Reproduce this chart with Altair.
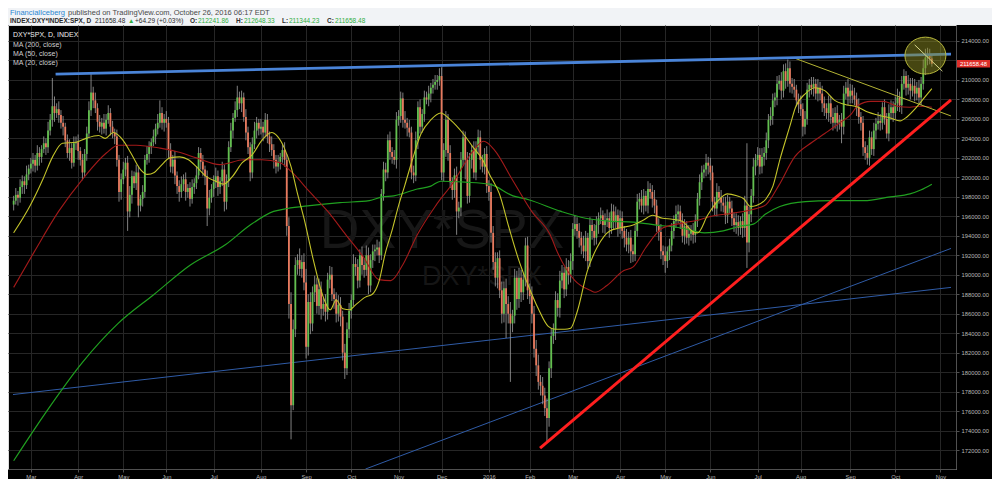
import json
import altair as alt
import pandas as pd

# ---------------- data (prices in thousands) ----------------
closes = [
    197.6, 198.2, 197.9, 199.0, 199.6, 199.2, 200.3, 200.9, 201.4, 201.8,
    201.2, 202.5, 202.1, 202.9, 203.5, 203.1, 204.8, 205.9, 207.3, 206.6,
    207.0, 206.4, 205.6, 205.2, 203.8, 202.5, 203.0, 201.5, 203.5, 203.6,
    202.7, 201.8, 200.5, 202.4, 204.5, 206.9, 208.7, 207.9, 207.1, 205.7,
    205.2, 205.6, 205.0, 205.9, 206.6, 205.2, 204.6, 204.2, 201.8, 198.5,
    199.8, 200.8, 201.5, 196.5, 198.2, 200.1, 199.4, 200.5, 197.1, 197.8,
    198.5, 201.8, 202.4, 203.1, 203.6, 204.2, 205.0, 205.6, 206.6, 205.6,
    206.0, 205.6, 202.8, 201.1, 201.8, 200.2, 199.1, 198.5, 199.3, 199.8,
    198.5, 198.9, 197.8, 199.0, 199.4, 200.2, 202.5, 201.6, 200.8, 200.1,
    196.8, 197.9, 198.8, 199.5, 200.1, 199.0, 199.6, 200.8, 197.5, 199.6,
    203.1, 204.8, 206.1, 206.9, 208.2, 207.6, 208.2, 206.2, 204.6, 203.1,
    200.5, 203.4, 204.8, 205.6, 205.0, 205.2, 204.6, 205.9, 204.2, 203.4,
    202.8, 201.8, 201.1, 201.6, 202.1, 202.8, 201.8, 195.0, 187.0, 176.6,
    184.4, 191.0, 191.5, 190.6, 191.3, 189.2, 182.6, 187.2, 185.0, 188.2,
    189.0, 186.8, 188.5, 186.5, 187.0, 186.2, 189.5, 190.0, 188.0, 187.5,
    186.0, 186.9, 185.7, 182.0, 180.4, 184.4, 186.3, 187.4, 191.1, 190.8,
    189.4, 192.0, 191.0, 190.5, 192.0, 188.9, 191.5, 192.4, 192.6, 192.8,
    192.0, 198.3, 200.8, 200.5, 203.8, 202.6, 202.1, 201.8, 205.9, 206.3,
    208.1, 205.9, 205.6, 205.1, 204.6, 200.5, 200.2, 203.8, 207.2, 205.2,
    206.5, 208.2, 208.0, 208.6, 209.2, 209.5, 209.8, 210.0, 210.4, 200.5,
    202.8, 205.9, 202.5, 199.5, 198.7, 200.2, 196.5, 196.9, 201.8, 204.1,
    201.8, 198.1, 201.8, 202.8, 200.5, 203.1, 204.1, 201.8, 201.1, 202.4,
    199.1, 198.5, 194.3, 191.3, 189.7, 191.7, 188.4, 186.0, 188.6, 187.0,
    186.0, 185.0, 185.8, 189.7, 187.5, 189.7, 188.2, 189.5, 193.0, 188.4,
    187.8, 186.0, 182.4, 180.7, 179.0, 178.6, 177.6, 176.3, 175.3, 180.4,
    183.7, 184.4, 187.4, 186.6, 189.4, 190.2, 188.5, 190.8, 190.0, 191.4,
    194.7, 195.2, 194.5, 193.8, 193.0, 192.4, 193.8, 191.4, 195.1, 194.5,
    193.8, 195.1, 195.8, 196.1, 195.1, 195.6, 195.8, 194.8, 196.5, 195.5,
    196.1, 194.8, 195.8, 194.5, 193.8, 193.1, 193.8, 192.4, 192.1, 194.5,
    197.5, 197.8, 197.1, 198.1, 197.1, 198.8, 198.5, 197.8, 197.1, 195.1,
    194.4, 192.4, 192.0, 191.4, 192.4, 193.0, 194.5, 195.5, 196.2, 196.5,
    195.5, 194.0, 195.0, 193.8, 194.2, 194.5, 194.1, 195.5, 197.8, 199.5,
    200.5, 200.8, 201.5, 201.2, 200.5, 197.5, 196.8, 198.5, 197.9, 197.4,
    197.1, 196.1, 197.5, 196.8, 195.8, 195.1, 195.4, 194.8, 195.5, 194.8,
    197.1, 193.3, 196.2, 198.1, 201.1, 201.8, 202.3, 201.1, 202.1, 202.5,
    203.8, 205.9, 206.3, 207.9, 208.2, 209.6, 209.9, 208.9, 210.9, 209.9,
    211.2, 209.6, 209.3, 209.0, 207.9, 207.5, 207.0, 205.2, 206.0, 209.0,
    209.5, 209.2, 209.6, 208.6, 209.2, 208.6, 207.6, 207.1, 206.6, 207.6,
    206.2, 205.6, 206.6, 205.6, 205.9, 205.2, 208.6, 209.2, 208.3, 208.9,
    208.4, 208.0, 207.2, 206.2, 205.6, 203.1, 202.5, 202.0, 204.1, 202.9,
    204.8, 205.5, 205.8, 205.6, 207.2, 206.0, 204.5, 206.6, 207.2, 206.6,
    207.6, 208.2, 207.4, 209.6, 210.4, 209.2, 209.6, 208.9, 209.4, 208.6,
    209.2, 208.2, 209.6, 211.2, 212.3, 212.6, 212.2, 211.66,
]
first_open = 197.2

# wick extension above / below the body, in hundreds
wick_up = [
    5, 7, 4, 8, 6, 5, 9, 4, 6, 7,   5, 8, 6, 4, 7, 5, 9, 6, 29, 10,
    6, 8, 5, 7, 4, 6, 9, 5, 7, 6,   8, 4, 6, 5, 7, 9, 19, 6, 8, 5,
    7, 5, 9, 6, 8, 5, 6, 4, 7, 5,   6, 8, 5, 7, 9, 6, 5, 8, 6, 4,
    7, 5, 8, 6, 4, 7, 5, 9, 13, 6,  5, 8, 6, 7, 5, 9, 4, 6, 8, 5,
    7, 4, 6, 8, 5, 9, 6, 5, 7, 4,   6, 8, 5, 7, 9, 6, 4, 8, 5, 7,
    6, 8, 5, 9, 12, 6, 7, 5, 8, 6,  5, 7, 9, 6, 4, 8, 5, 7, 6, 5,
    8, 6, 5, 7, 4, 6, 8, 6, 9, 12,  10, 8, 6, 12, 7, 9, 14, 8, 10, 6,
    9, 7, 11, 8, 6, 10, 7, 9, 8, 6, 7, 10, 8, 6, 9, 7, 8, 6, 10, 7,
    8, 6, 9, 7, 10, 8, 6, 7, 5, 8,  6, 5, 8, 7, 6, 9, 5, 7, 8, 6,
    7, 6, 9, 5, 8, 6, 7, 9, 6, 8,   5, 7, 6, 8, 5, 6, 7, 5, 8, 9,
    7, 9, 6, 8, 5, 7, 9, 6, 8, 7,   6, 8, 7, 5, 9, 6, 8, 7, 5, 6,
    8, 6, 9, 7, 10, 6, 8, 9, 7, 10, 8, 12, 6, 9, 7, 10, 8, 6, 8, 9,
    7, 10, 8, 9, 11, 7, 9, 8, 10, 7, 8, 6, 9, 7, 10, 8, 6, 9, 7, 8,
    6, 9, 7, 8, 6, 10, 7, 5, 8, 6,  7, 9, 6, 8, 5, 7, 9, 6, 8, 7,
    9, 6, 8, 7, 5, 9, 6, 8, 7, 6,   8, 6, 9, 7, 5, 8, 6, 7, 9, 6,
    7, 8, 6, 9, 5, 7, 8, 6, 9, 7,   6, 8, 7, 5, 9, 6, 8, 7, 6, 8,
    7, 5, 9, 6, 8, 7, 5, 9, 6, 8,   6, 9, 7, 5, 8, 6, 9, 7, 5, 8,
    10, 64, 8, 7, 9, 6, 8, 7, 9, 6, 8, 6, 9, 7, 5, 8, 6, 9, 7, 8,
    9, 7, 6, 8, 5, 7, 9, 6, 8, 7,   6, 8, 7, 5, 9, 6, 8, 7, 5, 8,
    7, 9, 6, 8, 5, 7, 8, 6, 9, 7,   6, 8, 7, 9, 5, 7, 6, 8, 7, 6,
    8, 6, 9, 7, 5, 8, 6, 9, 7, 6,   7, 9, 6, 8, 7, 5, 9, 6, 8, 7,
    6, 8, 7, 9, 9, 7, 6, 4,
]
wick_dn = [
    6, 4, 8, 5, 7, 9, 4, 6, 5, 8,   7, 5, 9, 6, 4, 8, 6, 5, 7, 9,
    5, 8, 6, 9, 7, 5, 8, 6, 4, 7,   9, 6, 8, 5, 7, 4, 6, 8, 5, 9,
    6, 8, 5, 7, 4, 9, 6, 8, 7, 10,  8, 5, 7, 20, 6, 9, 5, 7, 12, 6,
    8, 6, 5, 9, 7, 4, 8, 6, 5, 7,   9, 5, 8, 6, 7, 9, 8, 10, 6, 7,
    9, 6, 8, 5, 7, 6, 4, 8, 7, 9,   18, 7, 5, 8, 6, 9, 7, 5, 10, 8,
    6, 5, 8, 4, 7, 6, 9, 5, 8, 7,   9, 6, 5, 8, 7, 6, 9, 5, 7, 8,
    6, 9, 7, 5, 8, 6, 7, 10, 15, 35, 5, 8, 10, 7, 9, 8, 12, 9, 11, 8,
    10, 8, 9, 11, 7, 10, 8, 9, 7, 10, 9, 8, 10, 8, 11, 7, 9, 8, 6, 9,
    8, 7, 10, 8, 6, 9, 7, 8, 10, 6, 8, 5, 7, 9, 6, 8, 7, 5, 9, 6,
    7, 8, 6, 9, 5, 7, 8, 6, 9, 7,   6, 8, 5, 7, 9, 6, 5, 8, 6, 8,
    9, 7, 8, 6, 10, 8, 24, 7, 9, 6, 20, 8, 7, 9, 6, 8, 7, 10, 6, 8,
    7, 9, 10, 8, 9, 11, 8, 10, 9, 35, 10, 60, 9, 8, 11, 9, 10, 8, 7, 9,
    8, 10, 9, 11, 8, 10, 9, 8, 24, 9, 10, 8, 11, 9, 10, 8, 9, 7, 10, 8,
    9, 7, 8, 10, 9, 7, 10, 8, 6, 9, 8, 7, 9, 6, 8, 9, 7, 10, 6, 8,
    7, 9, 6, 8, 10, 7, 9, 12, 8, 7, 6, 8, 7, 9, 6, 8, 7, 9, 8, 7,
    9, 8, 10, 12, 7, 9, 6, 8, 7, 9, 8, 7, 9, 6, 8, 7, 9, 8, 6, 7,
    8, 6, 7, 9, 8, 10, 7, 8, 6, 9,  7, 9, 8, 6, 8, 7, 9, 8, 7, 10,
    9, 26, 10, 8, 7, 9, 6, 8, 7, 9, 7, 8, 6, 9, 7, 8, 6, 9, 7, 8,
    6, 9, 7, 8, 6, 9, 7, 10, 8, 6,  8, 7, 9, 6, 8, 7, 9, 8, 6, 9,
    7, 8, 6, 9, 7, 17, 8, 6, 9, 7,  8, 6, 9, 7, 8, 9, 7, 7, 8, 6,
    7, 9, 6, 8, 7, 6, 5, 8, 7, 9,   6, 8, 7, 9, 6, 8, 7, 9, 6, 8,
    7, 6, 8, 6, 7, 8, 6, 3,
]

# moving averages (trading-day index, value in thousands)
ma20_i = [0, 7.7, 13.6, 18.1, 22.7, 29, 33.6, 39.5, 42.7, 46.3, 50.9, 54.5, 59, 62.2, 65.4,
          68.1, 72.7, 77.2, 81.3, 85, 89.5, 94, 97.7, 101.8, 106.3, 110.9, 115.4, 120, 122.7,
          125.9, 129, 131.8, 135, 139.5, 144, 147.2, 150, 153.1, 156.3, 159, 163.6, 166.8, 170,
          172.7, 175.9, 179, 181.8, 185, 189.5, 194, 198.6, 203.1, 209, 213.6, 218.1, 221.3,
          225.9, 230.4, 234.9, 239.5, 244, 248.6, 251.8, 256.3, 259, 262.2, 266.8, 271.3, 277.2,
          281.8, 288.1, 292.7, 297.2, 301.8, 306.3, 310.9, 315.4, 318.1, 322.7, 327.2, 331.8,
          336.3, 339.5, 342.7, 345.4, 349.9, 353.1, 356.3, 360.9, 363.6, 368.2, 372.7, 377.2,
          381.8, 386.3, 392.7, 397.2, 401.8, 407.7, 412.2, 415.4, 419.9, 423.6, 427]
ma20_v = [194.3, 197.1, 199.8, 202.1, 203.5, 203.6, 204.0, 204.3, 204.0, 204.6, 203.8, 202.5,
          200.8, 200.3, 200.5, 201.1, 202.0, 202.1, 201.8, 201.1, 200.1, 199.6, 199.3, 200.1,
          201.5, 202.3, 203.8, 204.6, 204.2, 203.0, 201.1, 198.5, 195.8, 191.4, 187.7, 186.4,
          187.4, 186.5, 186.4, 186.9, 187.7, 188.0, 189.4, 192.1, 194.5, 197.1, 199.1, 201.5,
          204.5, 205.9, 206.6, 205.9, 204.5, 203.1, 201.8, 200.3, 198.3, 194.8, 191.5, 188.8,
          186.5, 184.7, 184.4, 184.4, 184.5, 186.3, 190.4, 192.8, 194.5, 194.8, 195.1, 195.6,
          196.1, 195.8, 195.7, 195.5, 194.5, 194.3, 196.1, 197.5, 198.3, 198.1, 197.8, 197.0,
          197.1, 197.8, 199.1, 201.8, 205.2, 207.2, 208.6, 209.2, 208.9, 207.9, 207.5, 207.2,
          206.7, 206.4, 206.1, 205.8, 206.2, 207.2, 208.2, 209.1]
ma50_i = [0, 9.7, 20.9, 32, 43.1, 48.6, 57, 68.1, 76.5, 85, 95.9, 107.2, 115.4, 123.9, 129.5,
          137.7, 146.1, 154.5, 162.7, 169.8, 175.4, 180.9, 187.7, 196.3, 204.5, 212.9, 218.6,
          223.6, 231.8, 240.9, 249.5, 253.1, 261, 268.1, 270.4, 275.9, 283.6, 288.1, 294, 301.8,
          310.9, 318.1, 324.5, 333.6, 339.5, 345.4, 349.9, 355.9, 363.2, 371.3, 377.2, 383.6,
          389.5, 392.7, 398.6, 404.5, 410.9, 416.8, 421.3, 427]
ma50_v = [188.7, 192.4, 196.5, 199.8, 202.5, 203.3, 203.3, 203.0, 202.6, 202.0, 201.3, 201.8,
          201.8, 201.5, 200.5, 198.5, 196.5, 194.1, 191.8, 189.5, 189.4, 191.0, 194.1, 197.1,
          199.5, 202.5, 203.7, 202.8, 199.8, 196.5, 194.1, 192.2, 189.4, 188.4, 188.2, 188.9,
          190.4, 190.8, 192.8, 194.8, 195.3, 195.6, 196.0, 196.3, 196.5, 196.8, 197.2, 199.2,
          202.1, 203.6, 204.5, 205.5, 206.5, 207.4, 207.8, 207.8, 207.3, 207.2, 207.3, 207.2]
ma200_i = [0, 15.4, 32, 48.6, 65.4, 82.2, 98.6, 110, 120.9, 127.2, 137.7, 151.8, 165.4, 171.3,
           176.8, 187.7, 194, 198.6, 210, 221.3, 232.2, 239.5, 254.5, 265.9, 276.8, 288.1, 299,
           310.4, 321.3, 330, 338.1, 344, 349.5, 356.3, 368.2, 380.4, 395.4, 407.7, 416.8,
           421.8, 427]
ma200_v = [170.9, 176.0, 181.0, 185.0, 188.0, 191.0, 193.1, 195.1, 196.5, 196.8, 197.1, 197.4,
           197.6, 198.0, 198.1, 198.8, 199.1, 199.6, 199.5, 199.3, 198.1, 197.7, 196.5, 195.8,
           195.5, 195.4, 195.1, 194.8, 194.3, 194.5, 195.0, 195.2, 196.2, 197.0, 197.5, 197.6,
           197.6, 198.0, 198.3, 198.7, 199.3]

# drawn trend lines (index, value in thousands)
top_line_i, top_line_v = [19.5, 435.9], [210.6, 212.65]
red_line_i, red_line_v = [244.8, 435.9], [172.2, 207.95]
blue_a_i, blue_a_v = [-0.3, 435.9], [177.7, 188.7]
blue_b_i, blue_b_v = [163.6, 435.9], [170.05, 192.7]
yel_line_i, yel_line_v = [363.6, 435.9], [212.2, 206.3]
mark_line_i, mark_line_v = [419.0, 431.9], [213.6, 210.9]
ellipse_i, ellipse_v = 424.0, 212.5

holidays = ["2015-04-03", "2015-05-25", "2015-07-03", "2015-09-07", "2015-11-26",
            "2015-12-25", "2016-01-01", "2016-01-18", "2016-02-15", "2016-03-25",
            "2016-05-30", "2016-07-04", "2016-09-05"]
month_labels = ["Mar", "Apr", "May", "Jun", "Jul", "Aug", "Sep", "Oct", "Nov", "Dec",
                "2016", "Feb", "Mar", "Apr", "May", "Jun", "Jul", "Aug", "Sep", "Oct", "Nov"]
price_ticks = list(range(172, 215, 2))
last_close = 211658.48

# ---------------- build tables ----------------
days = pd.bdate_range("2015-02-18", "2016-11-10")
days = days[~days.isin(pd.to_datetime(holidays))]
n = min(len(closes), len(wick_up), len(wick_dn))
opens = [first_open] + closes[:-1]
rows = []
for i in range(n):
    o, c = opens[i], closes[i]
    rows.append({
        "i": i, "date": str(days[i].date()),
        "open": o * 1000, "close": c * 1000,
        "high": (max(o, c) + wick_up[i] / 10) * 1000,
        "low": (min(o, c) - wick_dn[i] / 10) * 1000,
    })
candles = pd.DataFrame(rows)

tick_idx = [int(i) for i in range(1, len(days)) if days[i].month != days[i - 1].month]
tick_idx = tick_idx[:len(month_labels)]

# ---------------- styling ----------------
W, H = 948, 444
FONT = "Liberation Sans"
GRID = "#262626"
AX = "#505050"
UP, DOWN = "#62bf4f", "#e8795d"
XS = alt.Scale(domain=[-0.3, 435.9], nice=False, zero=False)
YS = alt.Scale(domain=[170055, 215640], nice=False, zero=False)

label_expr = f"{json.dumps(month_labels)}[indexof({json.dumps(tick_idx)}, datum.value)]"
x_axis = alt.Axis(values=tick_idx, labelExpr=label_expr, title=None, grid=True,
                  gridColor=GRID, gridWidth=1, domainColor=AX, tickColor=AX, tickSize=3,
                  labelColor="#b8b8b8", labelFontSize=5.8, labelFont=FONT, labelPadding=1,
                  labelFlush=False, labelOverlap=False)
# the 212000 label sits under the last-price marker in the original, so it is left blank
y_axis = alt.Axis(values=[v * 1000 for v in price_ticks],
                  labelExpr="datum.value == 212000 ? '' : format(datum.value, '.2f')",
                  orient="right", title=None, grid=True, gridColor=GRID, gridWidth=1,
                  domainColor=AX, tickColor=AX, tickSize=3, labelColor="#b8b8b8",
                  labelFontSize=5.8, labelFont=FONT, labelPadding=2, labelFlush=False,
                  labelOverlap=False)


def X(field):
    return alt.X(field, scale=XS, axis=x_axis)


def Y(field):
    return alt.Y(field, scale=YS, axis=y_axis)


ONE = alt.Data(values=[{}])


def text_at(s, x, y, color, size, weight="normal", align="left"):
    return alt.Chart(ONE).mark_text(
        text=s, color=color, fontSize=size, fontWeight=weight, font=FONT,
        align=align, baseline="middle").encode(x=alt.value(x), y=alt.value(y))


def line_of(xs_, vs_, color, width, interp="linear"):
    df = pd.DataFrame({"i": xs_, "v": [v * 1000 for v in vs_]})
    return alt.Chart(df).mark_line(color=color, strokeWidth=width, clip=True,
                                   interpolate=interp).encode(x=X("i:Q"), y=Y("v:Q"))


header_bg = alt.Chart(ONE).mark_rect(color="#f1f3f6").encode(
    x=alt.value(0), x2=alt.value(W + 36), y=alt.value(-17), y2=alt.value(0))

DARK, GREEN = "#2a2a2a", "#2fae3f"
header = [
    text_at("FinancialIceberg", 2, -12, "#2b86d1", 7.5),
    text_at("published on TradingView.com, October 26, 2016 06:17 EDT", 60, -12, "#4a4a4a", 7.5),
    text_at("INDEX:DXY*INDEX:SPX, D", 2, -4, DARK, 6.5, "bold"),
    text_at("211658.48", 87, -4, DARK, 6.5),
    text_at("\u25b2", 120, -4, GREEN, 6.5),
    text_at("+64.29 (+0.03%)", 127, -4, DARK, 6.5),
    text_at("O:", 182, -4, DARK, 6.5, "bold"),
    text_at("212241.86", 190, -4, GREEN, 6.5),
    text_at("H:", 228, -4, DARK, 6.5, "bold"),
    text_at("212648.33", 236, -4, GREEN, 6.5),
    text_at("L:", 274, -4, DARK, 6.5, "bold"),
    text_at("211344.23", 281, -4, GREEN, 6.5),
    text_at("C:", 319, -4, DARK, 6.5, "bold"),
    text_at("211658.48", 327, -4, GREEN, 6.5),
]

watermark = [
    text_at("DXY*SPX", 434, 206, "#171717", 55, align="center"),
    text_at("DXY*SPX", 474, 252, "#151515", 27, align="center"),
]

wicks = alt.Chart(candles).mark_rule(color="#a0a0a0", strokeWidth=1, opacity=0.8,
                                     clip=True).encode(x=X("i:Q"), y=Y("low:Q"), y2="high:Q")
bodies = alt.Chart(candles).mark_bar(size=1.8, clip=True).encode(
    x=X("i:Q"), y=Y("open:Q"), y2="close:Q",
    color=alt.condition("datum.close >= datum.open", alt.value(UP), alt.value(DOWN)))

ellipse = alt.Chart(pd.DataFrame({"i": [ellipse_i], "v": [ellipse_v * 1000]})).mark_point(
    shape="M -1 0 A 1 0.9 0 1 1 1 0 A 1 0.9 0 1 1 -1 0 Z", size=41 ** 2, filled=True,
    color="#8c8c22", fillOpacity=0.5, stroke="#b8b83c", strokeWidth=1, opacity=1).encode(
    x=X("i:Q"), y=Y("v:Q"))

legend = [
    text_at("DXY*SPX, D, INDEX", 5, 10, "#eeeeee", 7),
    text_at("MA (200, close)", 5, 19.5, "#cfcfcf", 7),
    text_at("MA (50, close)", 5, 28.8, "#cfcfcf", 7),
    text_at("MA (20, close)", 5, 38, "#cfcfcf", 7),
]

price_df = pd.DataFrame({"v": [last_close]})
price_box = alt.Chart(price_df).mark_point(
    shape="M -1 -0.23 L 1 -0.23 L 1 0.23 L -1 0.23 Z", size=33 ** 2, filled=True,
    color="#df2f2a", opacity=1).encode(x=alt.value(W + 17.5), y=Y("v:Q"))
price_txt = alt.Chart(price_df).mark_text(
    text="211658.48", color="#ffffff", fontSize=5.8, font=FONT, align="center",
    baseline="middle").encode(x=alt.value(W + 17.5), y=Y("v:Q"))

layers = (
    [header_bg] + header + watermark
    + [line_of(blue_a_i, blue_a_v, "#2f5ba6", 1), line_of(blue_b_i, blue_b_v, "#2f5ba6", 1)]
    + [wicks, bodies]
    + [line_of(ma200_i, ma200_v, "#20a020", 1.2, "monotone"),
       line_of(ma50_i, ma50_v, "#a31a1a", 1.1, "monotone"),
       line_of(ma20_i, ma20_v, "#c4c42a", 1.1, "monotone"),
       line_of(yel_line_i, yel_line_v, "#b4b434", 1),
       line_of(top_line_i, top_line_v, "#4a84d8", 2.8),
       line_of(red_line_i, red_line_v, "#ff1f1f", 3)]
    + [ellipse, line_of(mark_line_i, mark_line_v, "#d6d68a", 1)]
    + legend + [price_box, price_txt]
)

chart = alt.layer(*layers).properties(
    width=W, height=H, background="#000000", padding=0
).configure_view(stroke=None).configure(font=FONT, background="#000000")

chart.save("out.html", embed_options={"renderer": "svg", "actions": False})
